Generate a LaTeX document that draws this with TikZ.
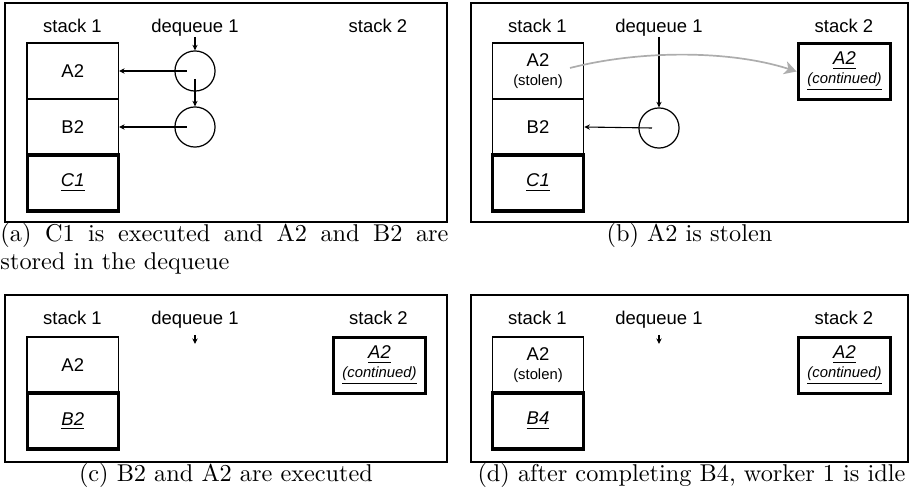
\documentclass[tikz,border=0pt]{standalone}
\usepackage{fontspec}
\newfontfamily\labfont{Liberation Sans}
\usetikzlibrary{arrows.meta}
% smaller type for the notes under a frame name
\newcommand\subtxt{\fontsize{6.1}{7.4}\selectfont}
\begin{document}
\begin{tikzpicture}[x=0.4115pt,y=-0.4115pt,
  panel/.style={draw, line width=1.05pt},
  lbl/.style={anchor=base, inner sep=0pt, font=\labfont\fontsize{7.6}{8}\selectfont},
  cell/.style={draw, line width=0.5pt, minimum width=37.6pt, minimum height=23.05pt,
    inner sep=0pt, align=center, font=\labfont\fontsize{7.6}{7.5}\selectfont},
  running/.style={cell, line width=1.25pt},
  thief/.style={running, minimum width=38.2pt, minimum height=23.4pt},
  slot/.style={circle, draw, line width=0.5pt, minimum size=16.5pt, inner sep=0pt},
  ptr/.style={line width=0.45pt, -{Stealth[length=2.3pt,width=2.2pt]}},
  steal/.style={draw=black!32, line width=0.7pt, -{Stealth[length=5pt,width=5.5pt,inset=1.4pt]}},
  capt/.style={inner sep=0pt, font=\rmfamily\fontsize{10}{12}\selectfont}
]
\useasboundingbox (0,0) rectangle (910,494);

% ---------- (a) ----------
\draw[panel] (5,3) rectangle (447,222);
\node[lbl] (a-l1) at (72.5,33) {stack 1};
\node[lbl] (a-l2) at (195,33) {dequeue 1};
\node[lbl] (a-l3) at (378,33) {stack 2};
\node[cell] (a-A2) at (72.75,71) {A2};
\node[cell] (a-B2) at (72.75,127) {B2};
\node[running] (a-C1) at (72.75,183) {\underline{\textit{C1}}};
\node[slot] (a-q1) at (195,71) {};
\node[slot] (a-q2) at (195,127) {};
\coordinate (a-in) at (195,37);
\coordinate (a-q1s) at (187,71);
\coordinate (a-q12) at (195,79);
\coordinate (a-q2s) at (187,127);
\draw[ptr] (a-in) -- (a-q1.north);
\draw[ptr] (a-q12) -- (a-q2.north);
\draw[ptr] (a-q1s) -- (a-A2.east);
\draw[ptr] (a-q2s) -- (a-B2.east);
\node[capt, anchor=base west] (a-cap1) at (0,242)
  {\makebox[184.35pt][s]{(a) C1 is executed and A2 and B2 are}};
\node[capt, anchor=base west] (a-cap2) at (0,270) {stored in the dequeue};

% ---------- (b) ----------
\draw[panel] (471,3) rectangle (908,222);
\node[lbl] (b-l1) at (537.5,33) {stack 1};
\node[lbl] (b-l2) at (659,33) {dequeue 1};
\node[lbl] (b-l3) at (844,33) {stack 2};
\node[cell] (b-A2) at (538,71) {A2\\{\subtxt(stolen)}};
\node[cell] (b-B2) at (538,127) {B2};
\node[running] (b-C1) at (538,183) {\underline{\textit{C1}}};
\node[slot] (b-q) at (659,128) {};
\coordinate (b-in) at (659,37);
\coordinate (b-qs) at (652,128);
\draw[ptr] (b-in) -- (b-q.north);
\draw[ptr] (b-qs) -- (b-B2.east);
\node[thief] (b-T) at (844.5,71.5) {\underline{\textit{A2}}\\{\subtxt\underline{\textit{(continued)}}}};
\coordinate (b-s) at (570,68);
\draw[steal] (b-s) .. controls (640,50) and (730,50) .. (b-T.west);
\node[capt, anchor=base] (b-cap) at (689.5,242) {(b) A2 is stolen};

% ---------- (c) ----------
\draw[panel] (5,295) rectangle (447,462);
\node[lbl] (c-l1) at (72.5,325) {stack 1};
\node[lbl] (c-l2) at (195,325) {dequeue 1};
\node[lbl] (c-l3) at (378.5,325) {stack 2};
\node[cell] (c-A2) at (72.75,365) {A2};
\node[running] (c-B2) at (72.75,421) {\underline{\textit{B2}}};
\coordinate (c-d0) at (195,335);
\coordinate (c-d1) at (195,344);
\draw[ptr] (c-d0) -- (c-d1);
\node[thief] (c-T) at (379.5,365.5) {\underline{\textit{A2}}\\{\subtxt\underline{\textit{(continued)}}}};
\node[capt, anchor=base] (c-cap) at (226,482) {(c) B2 and A2 are executed};

% ---------- (d) ----------
\draw[panel] (471,295) rectangle (908,462);
\node[lbl] (d-l1) at (537.5,325) {stack 1};
\node[lbl] (d-l2) at (659,325) {dequeue 1};
\node[lbl] (d-l3) at (844,325) {stack 2};
\node[cell] (d-A2) at (538,365) {A2\\{\subtxt(stolen)}};
\node[running] (d-B4) at (538,421) {\underline{\textit{B4}}};
\coordinate (d-d0) at (659,335);
\coordinate (d-d1) at (659,344);
\draw[ptr] (d-d0) -- (d-d1);
\node[thief] (d-T) at (844.5,365.5) {\underline{\textit{A2}}\\{\subtxt\underline{\textit{(continued)}}}};
\node[capt, anchor=base] (d-cap) at (691.5,482) {(d) after completing B4, worker 1 is idle};
\end{tikzpicture}
\end{document}
